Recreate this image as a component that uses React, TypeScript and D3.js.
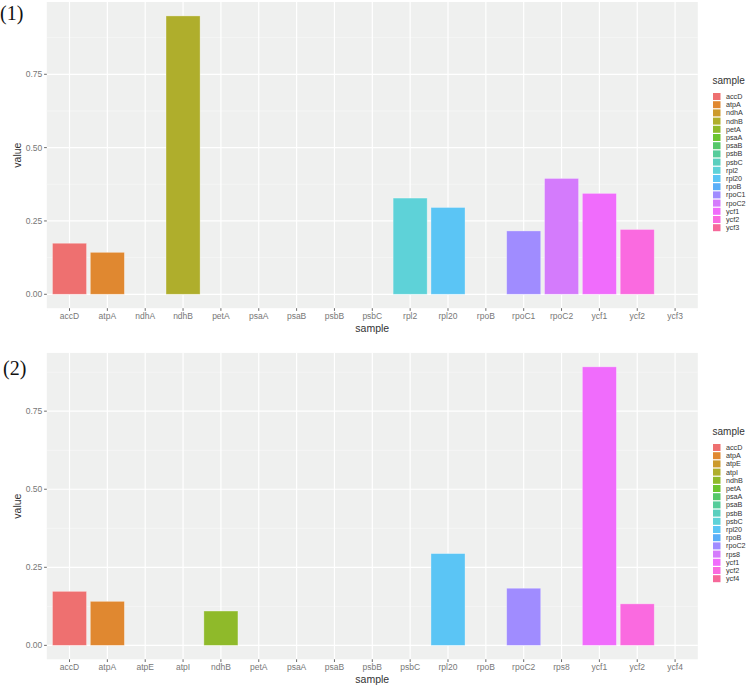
import React, { useEffect, useRef } from 'react';
import * as d3 from 'd3';

const samples1 = ['accD', 'atpA', 'ndhA', 'ndhB', 'petA', 'psaA', 'psaB', 'psbB', 'psbC', 'rpl2', 'rpl20', 'rpoB', 'rpoC1', 'rpoC2', 'ycf1', 'ycf2', 'ycf3'];
const values1 = [0.174, 0.143, 0, 0.949, 0, 0, 0, 0, 0, 0.328, 0.296, 0, 0.216, 0.395, 0.344, 0.221, 0];

const samples2 = ['accD', 'atpA', 'atpE', 'atpI', 'ndhB', 'petA', 'psaA', 'psaB', 'psbB', 'psbC', 'rpl20', 'rpoB', 'rpoC2', 'rps8', 'ycf1', 'ycf2', 'ycf4'];
const values2 = [0.173, 0.141, 0, 0, 0.110, 0, 0, 0, 0, 0, 0.294, 0, 0.183, 0, 0.892, 0.133, 0];

const yTicks = [0, 0.25, 0.5, 0.75];
const panelLabels = ['(1)', '(2)'];

// hue palette as it appears in the picture (17 levels)
const palette = [
  '#EE7070', '#E08830', '#CC9A2C', '#AFAE2C', '#8FBA2A', '#6CC52F', '#55C86A', '#55CC9A', '#5ACFBE',
  '#5ED2D8', '#5BC5F5', '#5AAEF8', '#A08CFF', '#D47BFC', '#F06CFC', '#FA6AE0', '#F6689A',
];

const W = 750, H = 686;
const FONT = '"Liberation Sans", Arial, Helvetica, sans-serif';

const App: React.FC = () => {
  const svgRef = useRef<SVGSVGElement>(null);

  useEffect(() => {
    if (!svgRef.current) return;
    const svg = d3.select(svgRef.current);
    svg.selectAll('*').remove();

    const panels = [
      { samples: samples1, values: values1, top: 2, bottom: 308.2 },
      { samples: samples2, values: values2, top: 352.9, bottom: 659.3 },
    ];
    const left = 46.8, right = 697.8;

    panels.forEach((p, pi) => {
      const g = svg.append('g');

      const maxV = d3.max(p.values) || 1;
      const y = d3.scaleLinear()
        .domain([-0.05 * maxV, maxV * 1.05])
        .range([p.bottom, p.top]);

      const n = p.samples.length;
      const x = d3.scaleLinear().domain([0.4, n + 0.6]).range([left, right]);
      const bw = 0.9 * (x(1) - x(0));

      // panel background
      g.append('rect')
        .attr('x', left).attr('y', p.top)
        .attr('width', right - left).attr('height', p.bottom - p.top)
        .attr('fill', '#EFF0EF');

      // minor grid
      const minor = d3.range(0.125, maxV * 1.05, 0.25);
      g.selectAll('.minor').data(minor).enter().append('line')
        .attr('x1', left).attr('x2', right)
        .attr('y1', d => y(d)).attr('y2', d => y(d))
        .attr('stroke', '#fafafa').attr('stroke-width', 0.6);

      // major grid
      g.selectAll('.majorY').data(yTicks).enter().append('line')
        .attr('x1', left).attr('x2', right)
        .attr('y1', d => y(d)).attr('y2', d => y(d))
        .attr('stroke', '#ffffff').attr('stroke-width', 1.2);
      g.selectAll('.majorX').data(p.samples).enter().append('line')
        .attr('x1', (_, i) => x(i + 1)).attr('x2', (_, i) => x(i + 1))
        .attr('y1', p.top).attr('y2', p.bottom)
        .attr('stroke', '#ffffff').attr('stroke-width', 1.2);

      // bars
      g.selectAll('.bar').data(p.values).enter().append('rect')
        .attr('x', (_, i) => x(i + 1) - bw / 2)
        .attr('y', d => y(d))
        .attr('width', bw)
        .attr('height', d => y(0) - y(d))
        .attr('fill', (_, i) => palette[i])
        .attr('stroke', '#ffffff')
        .attr('stroke-opacity', 0.4)
        .attr('stroke-width', 0.8);

      // y axis
      g.selectAll('.ytick').data(yTicks).enter().append('line')
        .attr('x1', left - 2.7).attr('x2', left)
        .attr('y1', d => y(d)).attr('y2', d => y(d))
        .attr('stroke', '#444').attr('stroke-width', 0.8);
      g.selectAll('.ylab').data(yTicks).enter().append('text')
        .attr('x', left - 4.5)
        .attr('y', d => y(d))
        .attr('dy', '0.35em')
        .attr('text-anchor', 'end')
        .attr('fill', '#777')
        .style('font-family', FONT)
        .style('font-size', '8.5px')
        .text(d => d3.format('.2f')(d));

      // x axis
      g.selectAll('.xtick').data(p.samples).enter().append('line')
        .attr('x1', (_, i) => x(i + 1)).attr('x2', (_, i) => x(i + 1))
        .attr('y1', p.bottom).attr('y2', p.bottom + 2.7)
        .attr('stroke', '#444').attr('stroke-width', 0.8);
      g.selectAll('.xlab').data(p.samples).enter().append('text')
        .attr('x', (_, i) => x(i + 1))
        .attr('y', p.bottom + 11)
        .attr('text-anchor', 'middle')
        .attr('fill', '#777')
        .style('font-family', FONT)
        .style('font-size', '8.5px')
        .text(d => d);

      // axis titles
      g.append('text')
        .attr('x', (left + right) / 2)
        .attr('y', p.bottom + 24)
        .attr('text-anchor', 'middle')
        .attr('fill', '#333')
        .style('font-family', FONT)
        .style('font-size', '10.5px')
        .text('sample');
      g.append('text')
        .attr('transform', `translate(21,${(p.top + p.bottom) / 2}) rotate(-90)`)
        .attr('text-anchor', 'middle')
        .attr('fill', '#333')
        .style('font-family', FONT)
        .style('font-size', '10.5px')
        .text('value');

      // legend
      const keyH = 8.2;
      const mid = (p.top + p.bottom) / 2;
      const legTop = mid - (n * keyH + 14) / 2;
      const leg = g.append('g');
      leg.append('text')
        .attr('x', 712.5).attr('y', legTop + 6)
        .attr('fill', '#333')
        .style('font-family', FONT)
        .style('font-size', '10px')
        .text('sample');
      const firstKey = legTop + 14;
      leg.selectAll('.key').data(p.samples).enter().append('rect')
        .attr('x', 713)
        .attr('y', (_, i) => firstKey + i * keyH + 0.6)
        .attr('width', 7.5).attr('height', keyH - 1.2)
        .attr('fill', (_, i) => palette[i]);
      leg.selectAll('.klab').data(p.samples).enter().append('text')
        .attr('x', 726)
        .attr('y', (_, i) => firstKey + i * keyH + keyH / 2)
        .attr('dy', '0.35em')
        .attr('fill', '#333')
        .style('font-family', FONT)
        .style('font-size', '7.2px')
        .text(d => d);

      // panel tag
      g.append('text')
        .attr('x', pi === 0 ? 0 : 3)
        .attr('y', pi === 0 ? 20 : 375)
        .attr('fill', '#111')
        .style('font-family', '"Liberation Serif", "DejaVu Serif", serif')
        .style('font-size', '20px')
        .text(panelLabels[pi]);
    });
  }, []);

  return (
    <svg
      ref={svgRef}
      width={W}
      height={H}
      style={{ position: 'absolute', top: 0, left: 0, display: 'block', background: '#fff' }}
    />
  );
};

export default App;
